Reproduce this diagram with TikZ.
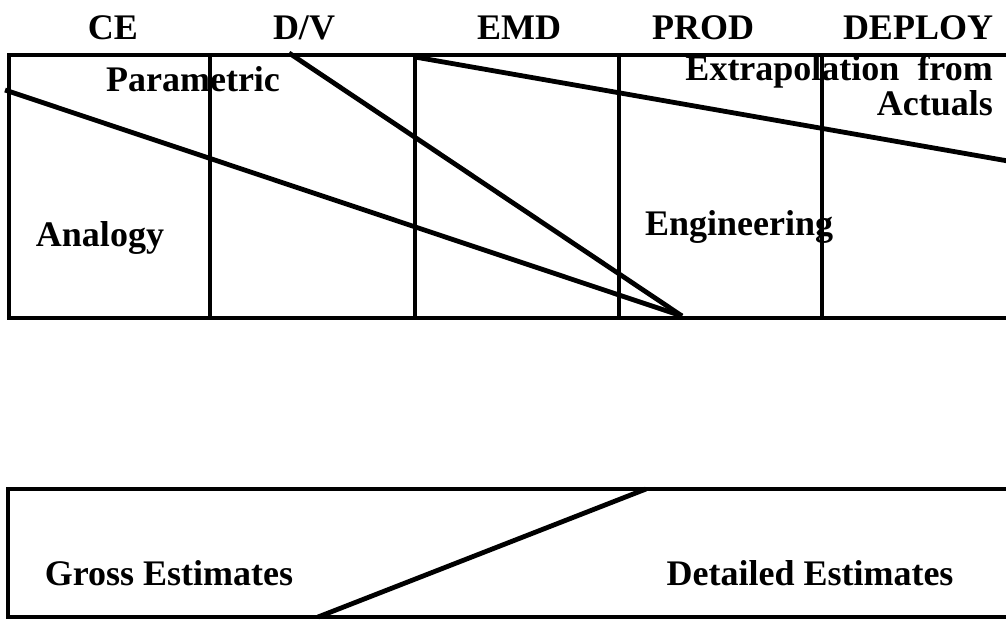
\documentclass[tikz,border=0pt]{standalone}
\usepackage{fontspec}
\setmainfont{Liberation Serif}
\begin{document}
\begin{tikzpicture}[x=1pt,y=-1pt,
  frame/.style={line width=4.8pt,line cap=butt},
  lbl/.style={font=\bfseries\fontsize{36}{35}\selectfont,inner sep=0pt,anchor=base}]
\useasboundingbox (0,0) rectangle (1006,619);
% phase labels
\node[lbl] (ce) at (113,39) {CE};
\node[lbl] (dv) at (304,39) {D/V};
\node[lbl] (emd) at (519,39) {EMD};
\node[lbl] (prod) at (703,39) {PROD};
\node[lbl] (deploy) at (918,39) {DEPLOY};
% top box
\coordinate (tl) at (9,55);
\coordinate (tr) at (1008,55);
\coordinate (bl) at (9,318);
\coordinate (br) at (1008,318);
\draw[frame] (tr) -- (tl) -- (bl) -- (br);
\foreach \x/\n in {210/a,415/b,619/c,822/d}{
  \coordinate (v\n t) at (\x,55);
  \coordinate (v\n b) at (\x,318);
  \draw[frame] (v\n t) -- (v\n b);
}
% diagonal lines
\coordinate (conv) at (682,316);
\coordinate (s1) at (5,90);
\coordinate (s2) at (289,53);
\coordinate (s3) at (415,57);
\coordinate (e3) at (1008,161);
\draw[frame] (s1) -- (conv);
\draw[frame] (s2) -- (conv);
\draw[frame] (s3) -- (e3);
% method labels
\node[lbl] (param) at (193,91) {Parametric};
\node[lbl] (analogy) at (100,246) {Analogy};
\node[lbl,anchor=base east,align=right] (extra) at (993,115) {Extrapolation\ \ from\\Actuals};
\node[lbl] (eng) at (739,235) {Engineering};
% bottom box
\coordinate (btl) at (8,489);
\coordinate (btr) at (1008,489);
\coordinate (bbl) at (8,617);
\coordinate (bbr) at (1008,617);
\draw[frame] (btr) -- (btl) -- (bbl) -- (bbr);
\coordinate (d1) at (318,617);
\coordinate (d2) at (646,489);
\draw[frame] (d1) -- (d2);
\node[lbl] (gross) at (169,585) {Gross Estimates};
\node[lbl] (detail) at (810,585) {Detailed Estimates};
\end{tikzpicture}
\end{document}
